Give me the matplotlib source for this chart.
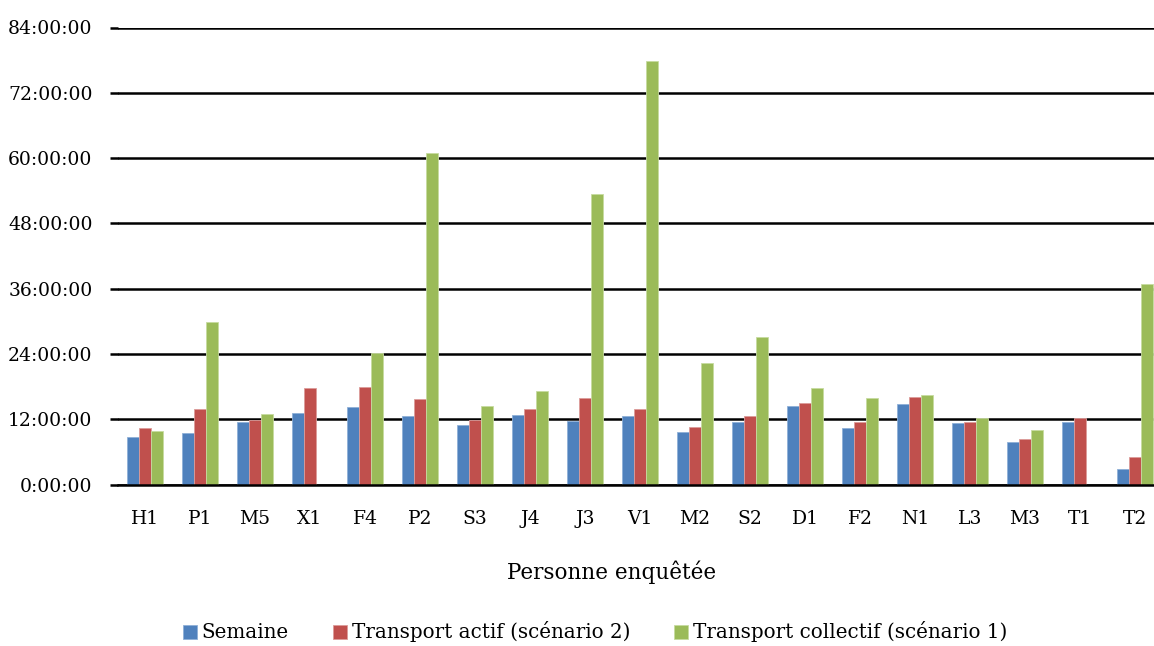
import numpy as np
import matplotlib
matplotlib.use('Agg')
import matplotlib.pyplot as plt
from matplotlib.ticker import FuncFormatter, MultipleLocator

plt.rcParams['font.family'] = ['DejaVu Serif']

personnes = ['H1', 'P1', 'M5', 'X1', 'F4', 'P2', 'S3', 'J4', 'J3', 'V1',
             'M2', 'S2', 'D1', 'F2', 'N1', 'L3', 'M3', 'T1', 'T2']
# durées en heures
semaine = [8.7, 9.4, 11.5, 13.1, 14.2, 12.6, 11.0, 12.7, 11.7, 12.6,
           9.6, 11.5, 14.4, 10.3, 14.8, 11.3, 7.9, 11.5, 2.8]
transport_actif = [10.4, 13.9, 11.9, 17.7, 17.9, 15.7, 11.9, 13.9, 15.9, 13.9,
                   10.6, 12.6, 14.9, 11.5, 16.0, 11.5, 8.3, 12.2, 5.1]
transport_collectif = [9.8, 29.9, 12.9, 0.0, 24.1, 60.9, 14.5, 17.1, 53.4, 77.8,
                       22.3, 27.2, 17.7, 15.9, 16.5, 12.2, 10.0, 0.0, 36.8]

series = [('Semaine', semaine, '#4F81BD', '#8FB0D8'),
          ('Transport actif (scénario 2)', transport_actif, '#C0504D', '#DC9C9A'),
          ('Transport collectif (scénario 1)', transport_collectif, '#9BBB59', '#C7DBA0')]

fig = plt.figure(figsize=(11.54, 6.46), dpi=100)
ax = fig.add_axes([117.5 / 1154, 1 - 484.5 / 646, 1045 / 1154, (484.5 - 27.5) / 646])

x = np.arange(len(personnes))
w = 0.218
for i, (name, vals, col, edge) in enumerate(series):
    ax.bar(x + (i - 1) * w, vals, w, color=col, edgecolor=edge, linewidth=0.6,
           label=name, zorder=3)

ax.set_xlim(-0.5, len(personnes) - 0.5)
ax.set_ylim(0, 84)
ax.yaxis.set_major_locator(MultipleLocator(12))
ax.yaxis.set_major_formatter(FuncFormatter(lambda v, p: '{}:00:00'.format(int(round(v)))))
ax.grid(axis='y', color='black', linewidth=1.8, zorder=1)
for s in ['top', 'right', 'left']:
    ax.spines[s].set_visible(False)
ax.spines['bottom'].set_linewidth(1.8)
ax.spines['bottom'].set_zorder(4)
ax.set_xticks(x)
ax.set_xticklabels(personnes)
ax.tick_params(axis='x', length=0, pad=18, labelsize=13.5)
ax.tick_params(axis='y', length=6, width=1.8, pad=12, labelsize=13.5)
ax.set_xlabel('Personne enquêtée', fontsize=15.5)
ax.xaxis.set_label_coords((612 - 117.5) / 1045, -(572 - 484.5) / 457, transform=ax.transAxes)
ax.xaxis.label.set_va('center')

handles, labels = ax.get_legend_handles_labels()
fig.legend(handles, labels, loc='center', bbox_to_anchor=(595 / 1154, 1 - 632 / 646), ncol=3,
           frameon=False, fontsize=14.35, handlelength=0.7, handleheight=0.7,
           handletextpad=0.25, columnspacing=2.2)

fig.savefig('out.png', dpi=100)
